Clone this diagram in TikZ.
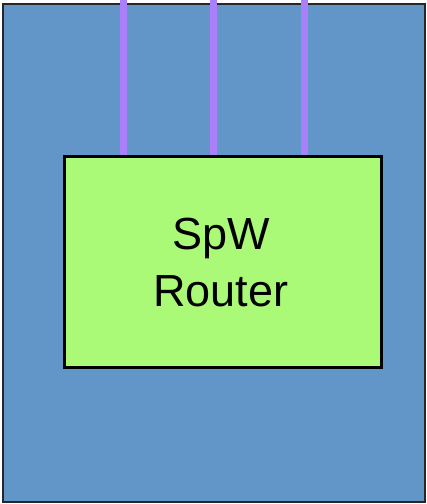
\documentclass[tikz,border=0pt]{standalone}
\usepackage{fontspec}
\setmainfont{Liberation Sans}
\definecolor{bluebg}{RGB}{99,150,200}
\definecolor{greenbox}{RGB}{170,250,120}
\definecolor{purpleline}{RGB}{170,128,250}
\tikzset{
  outerbox/.style={draw=black!85, line width=2pt, fill=bluebg},
  routerbox/.style={draw=black, line width=2.5pt, fill=greenbox},
  link/.style={draw=purpleline, line width=7.5pt},
  lbl/.style={font=\fontsize{45}{57}\selectfont, anchor=base, inner sep=0pt}
}
\begin{document}
\begin{tikzpicture}[x=1pt,y=-1pt]
\useasboundingbox (0,0) rectangle (427,504);
\draw[outerbox] (2.5,3.5) rectangle (425,502);
\coordinate (t1) at (123.5,0);
\coordinate (t2) at (213.5,0);
\coordinate (t3) at (304.5,0);
\node[routerbox, minimum width=317pt, minimum height=211pt, inner sep=0pt, anchor=north west] (router) at (63,155) {};
\draw[link] (t1) -- (t1 |- router.north);
\draw[link] (t2) -- (t2 |- router.north);
\draw[link] (t3) -- (t3 |- router.north);
\node[routerbox, minimum width=317pt, minimum height=211pt, inner sep=0pt, anchor=north west] at (63,155) {};
\node[lbl] (l1) at (221,249) {SpW};
\node[lbl] (l2) at (221,306) {Router};
\end{tikzpicture}
\end{document}
